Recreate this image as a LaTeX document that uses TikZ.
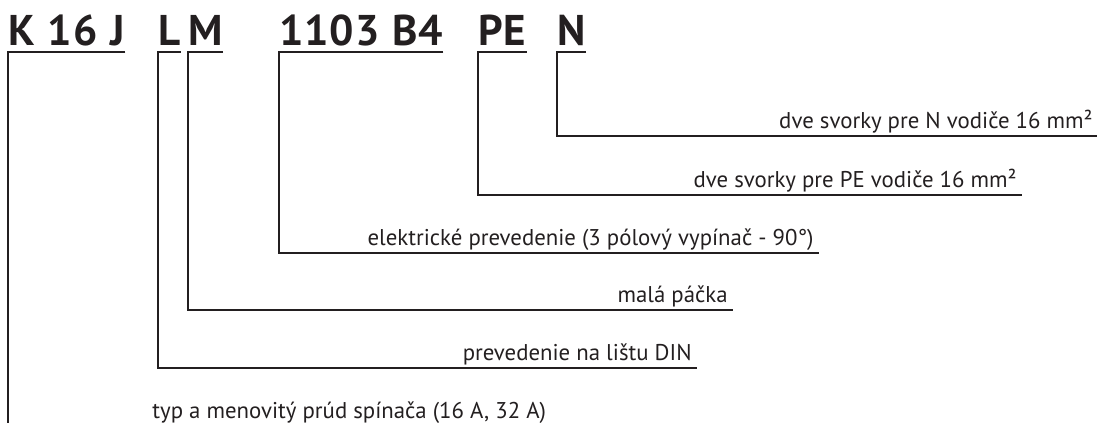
\documentclass[tikz,border=0pt]{standalone}
\usepackage{fontspec}
\setmainfont{PT Sans}
\newfontfamily\codefont{PT Sans}[WordSpace=1.1,LetterSpace=2]
\usepackage{tikz}
\usetikzlibrary{calc}
\definecolor{ink}{RGB}{35,31,32}
\tikzset{code/.style={anchor=base west, inner sep=0, text=ink, font=\codefont\bfseries\fontsize{21.5}{23}\selectfont},
  lab/.style={anchor=base east, inner sep=0, text=ink, font=\fontsize{11.4}{13}\selectfont},
  bracket/.style={draw=ink, line width=1pt}}

\begin{document}
\begin{tikzpicture}[x=.5pt,y=-.5pt]
\useasboundingbox (0,0) rectangle (1097,423);
\coordinate (bottom) at (0,423);
\node[code] (tK) at (8,46) {K 16 J};
\node[lab, anchor=base west] (lK) at (152,418) {typ a menovitý prúd spínača (16 A, 32 A)};
\draw[bracket] ($(tK.base east)+(0,6)$) -- ($(tK.base west)+(0,6)$) -- (tK.base west |- bottom);
\foreach \nm/\x/\txt/\xe/\yb/\lab in {L/158/L/692/360/prevedenie na lištu DIN, M/188/M/728/302/malá páčka, B/279/1103 B4/814/245/{elektrické prevedenie (3 pólový vypínač - 90°)}, P/478/PE/1017/187/dve svorky pre PE vodiče 16 mm², N/557/N/1093/128/dve svorky pre N vodiče 16 mm²}
{
\node[code] (t\nm) at (\x,46) {\txt};
\node[lab] (l\nm) at (\xe,\yb) {\lab};
\draw[bracket] ($(t\nm.base east)+(0,6)$) -- ($(t\nm.base west)+(0,6)$) |- ($(l\nm.base east)+(5,8)$);
}
\end{tikzpicture}
\end{document}
